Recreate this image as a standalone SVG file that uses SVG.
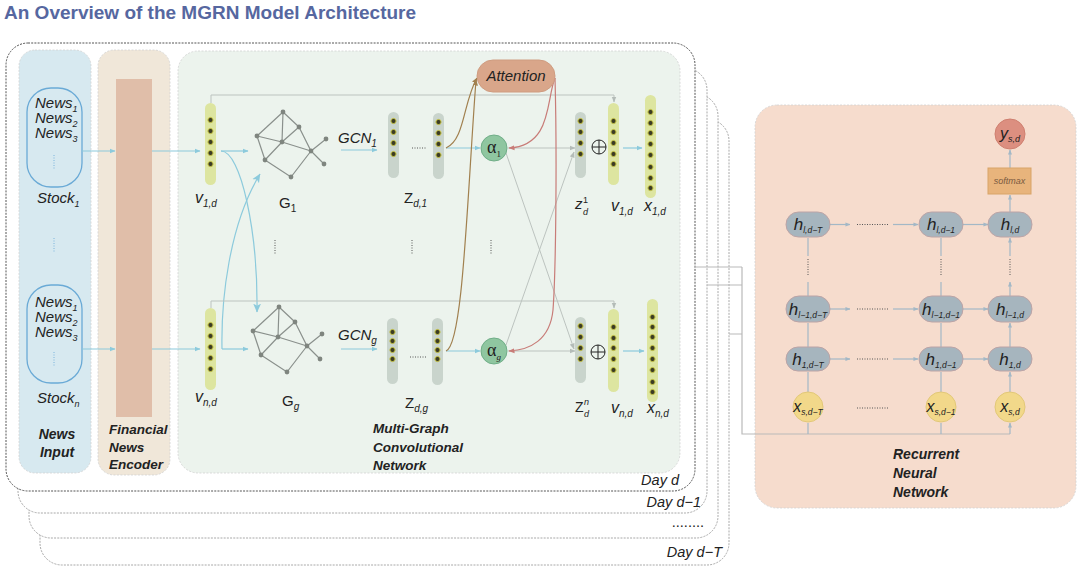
<svg xmlns="http://www.w3.org/2000/svg" xmlns:xlink="http://www.w3.org/1999/xlink" width="1080" height="571" viewBox="0 0 1080 571">
<style>
.t{font-family:"Liberation Sans",Arial,sans-serif;fill:#222}
.s{font-family:"Liberation Serif","Times New Roman",serif;fill:#222}
.i{font-style:italic}
.b{font-weight:bold}
.frame{fill:#fff;stroke:#a8a8a8;stroke-width:1;stroke-dasharray:2 1.2}
.panel{stroke:#d2d2d2;stroke-width:0.8;stroke-dasharray:2 1.5}
.colY{fill:#dde5a0}
.colG{fill:#c9d4cc}
.dot{fill:#3c3c24;stroke:#c8c64a;stroke-width:1}
.blue{fill:none;stroke:#8ccadc;stroke-width:1.2}
.gray{fill:none;stroke:#bcc3bf;stroke-width:1}
.brown{fill:none;stroke:#a1804f;stroke-width:1.2}
.red{fill:none;stroke:#c87c78;stroke-width:1.2}
.rnn{fill:none;stroke:#a3b8c6;stroke-width:1.2}
.link{fill:none;stroke:#b9b9b9;stroke-width:1.2}
.dl{fill:none;stroke:#555;stroke-width:1;stroke-dasharray:1 1.5}
.dlb{fill:none;stroke:#7ab4dc;stroke-width:1;stroke-dasharray:1 1.5}
.hnode{fill:#a6b5be;stroke:#bca4a6;stroke-width:1}
.gE{stroke:#8a908c;stroke-width:1.2;fill:none}
.gN{fill:#7f857f}
</style>
<defs>
<marker id="aB" viewBox="0 0 6 6" refX="5.5" refY="3" markerWidth="6" markerHeight="6" markerUnits="userSpaceOnUse" orient="auto"><path d="M0,0.6 L6,3 L0,5.4z" fill="#8ccadc"/></marker>
<marker id="aBL" viewBox="0 0 8 8" refX="7.5" refY="4" markerWidth="9" markerHeight="9" markerUnits="userSpaceOnUse" orient="auto"><path d="M0,0.5 L8,4 L0,7.5 L2,4z" fill="#8ccadc"/></marker>
<marker id="aG" viewBox="0 0 6 6" refX="5.5" refY="3" markerWidth="6" markerHeight="6" markerUnits="userSpaceOnUse" orient="auto"><path d="M0,0.6 L6,3 L0,5.4z" fill="#b4bcb8"/></marker>
<marker id="aBr" viewBox="0 0 6 6" refX="5.5" refY="3" markerWidth="6" markerHeight="6" markerUnits="userSpaceOnUse" orient="auto"><path d="M0,0.6 L6,3 L0,5.4z" fill="#a1804f"/></marker>
<marker id="aR" viewBox="0 0 6 6" refX="5.5" refY="3" markerWidth="6" markerHeight="6" markerUnits="userSpaceOnUse" orient="auto"><path d="M0,0.6 L6,3 L0,5.4z" fill="#c87c78"/></marker>
<marker id="aN" viewBox="0 0 6 6" refX="5.5" refY="3" markerWidth="5" markerHeight="5" markerUnits="userSpaceOnUse" orient="auto"><path d="M0,0.6 L6,3 L0,5.4z" fill="#a3b8c6"/></marker>
<g id="graph">
<path class="gE" d="M283,112 L299,127 M283,112 L282,142 M257,136 L283,112 M257,136 L282,142 L311,151 M299,127 L282,142 L265,160 M257,136 L265,160 M299,127 L311,151 L326,139 M311,151 L324,164 M311,151 L291,177 L265,160"/>
<circle class="gN" cx="283" cy="112" r="2.4"/><circle class="gN" cx="299" cy="127" r="2.4"/><circle class="gN" cx="257" cy="136" r="2.4"/><circle class="gN" cx="282" cy="142" r="2.4"/><circle class="gN" cx="311" cy="151" r="2.4"/><circle class="gN" cx="326" cy="139" r="2.4"/><circle class="gN" cx="324" cy="164" r="2.4"/><circle class="gN" cx="265" cy="160" r="2.4"/><circle class="gN" cx="291" cy="177" r="2.4"/>
</g>
</defs>

<rect width="1080" height="571" fill="#fff"/>
<text class="t b" x="4" y="19" font-size="19" fill="#5667a0" style="fill:#5667a0">An Overview of the MGRN Model Architecture</text>

<g id="day-frames">
<rect class="frame" x="40" y="119" width="689" height="446" rx="22"/>
<rect class="frame" x="29" y="94" width="689" height="444" rx="22"/>
<rect class="frame" x="18" y="68" width="689" height="445" rx="22"/>
<rect class="frame" x="6" y="43" width="689" height="448" rx="22" style="stroke:#555"/>
<text class="t i" x="679" y="485" font-size="14.5" text-anchor="end">Day d</text>
<text class="t i" x="701" y="507" font-size="14.5" text-anchor="end">Day d−1</text>
<text class="t" x="704" y="527" font-size="14.5" text-anchor="end">........</text>
<text class="t i" x="722" y="557" font-size="14.5" text-anchor="end">Day d−T</text>
</g>

<g id="news-input">
<rect class="panel" x="19" y="50" width="72" height="423" rx="16" fill="#d7e9f0"/>
<rect x="27" y="88" width="55" height="99" rx="24" fill="none" stroke="#6aaad6" stroke-width="1.3"/>
<text class="t i" x="35" y="108" font-size="15">News<tspan font-size="9" dy="4">1</tspan></text>
<text class="t i" x="35" y="123" font-size="15">News<tspan font-size="9" dy="4">2</tspan></text>
<text class="t i" x="35" y="138" font-size="15">News<tspan font-size="9" dy="4">3</tspan></text>
<path class="dlb" d="M54,155 V170"/>
<text class="t i" x="37" y="203" font-size="15">Stock<tspan font-size="9" dy="4">1</tspan></text>
<path class="dlb" d="M54,238 V252"/>
<rect x="27" y="285" width="55" height="98" rx="24" fill="none" stroke="#6aaad6" stroke-width="1.3"/>
<text class="t i" x="35" y="307" font-size="15">News<tspan font-size="9" dy="4">1</tspan></text>
<text class="t i" x="35" y="322" font-size="15">News<tspan font-size="9" dy="4">2</tspan></text>
<text class="t i" x="35" y="337" font-size="15">News<tspan font-size="9" dy="4">3</tspan></text>
<path class="dlb" d="M54,352 V367"/>
<text class="t i" x="37" y="403" font-size="15">Stock<tspan font-size="9" dy="4">n</tspan></text>
<text class="t b i" x="57" y="439" font-size="14" text-anchor="middle">News</text>
<text class="t b i" x="57" y="457" font-size="14" text-anchor="middle">Input</text>
</g>

<g id="news-encoder">
<rect class="panel" x="98" y="50" width="72" height="425" rx="16" fill="#f0e7d9"/>
<rect x="116" y="79" width="36" height="338" fill="#e0bea9"/>
<text class="t b i" x="109" y="434" font-size="13.5">Financial</text>
<text class="t b i" x="109" y="452" font-size="13.5">News</text>
<text class="t b i" x="109" y="469" font-size="13.5">Encoder</text>
</g>

<g id="mgcn-panel">
<rect class="panel" x="178" y="51" width="502" height="422" rx="20" fill="#ecf3ed"/>
<text class="t b i" x="373" y="433" font-size="13.5">Multi-Graph</text>
<text class="t b i" x="373" y="452" font-size="13.5">Convolutional</text>
<text class="t b i" x="373" y="470" font-size="13.5">Network</text>
<path class="dl" d="M275,240 V254 M412,240 V254 M491,240 V254"/>
</g>

<g id="rnn-panel">
<rect class="panel" x="755" y="105" width="321" height="403" rx="22" fill="#f6dccd"/>
<text class="t b i" x="893" y="459" font-size="14">Recurrent</text>
<text class="t b i" x="893" y="478" font-size="14">Neural</text>
<text class="t b i" x="893" y="497" font-size="14">Network</text>
</g>

<g id="connectors">
<path class="blue" d="M82,151 H115" marker-end="url(#aB)"/>
<path class="blue" d="M152,151 H200" marker-end="url(#aB)"/>
<path class="blue" d="M82,349 H115" marker-end="url(#aB)"/>
<path class="blue" d="M152,349 H200" marker-end="url(#aB)"/>
<path class="blue" d="M221,151 H248" marker-end="url(#aB)"/>
<path class="blue" d="M221,151 C241,151 258,232 257,312" marker-end="url(#aBL)"/>
<path class="blue" d="M222,349 H248" marker-end="url(#aB)"/>
<path class="blue" d="M222,349 C221,300 229,225 260,174" marker-end="url(#aBL)"/>
<path class="blue" d="M341,150 H377" marker-end="url(#aB)"/>
<path class="blue" d="M341,349 H377" marker-end="url(#aB)"/>
<path class="blue" d="M446,148 H480" marker-end="url(#aB)"/>
<path class="blue" d="M446,351 H480" marker-end="url(#aB)"/>
<path class="blue" d="M623,148 H642" marker-end="url(#aB)"/>
<path class="blue" d="M623,351 H644" marker-end="url(#aB)"/>
<path class="gray" d="M211,103 V95 H614 V102" marker-end="url(#aG)"/>
<path class="gray" d="M211,308 V301 H614 V308" marker-end="url(#aG)"/>
<path class="gray" d="M508,148 H575" marker-end="url(#aG)"/>
<path class="gray" d="M508,351 H575" marker-end="url(#aG)"/>
<path class="gray" d="M506,153 L574,349" marker-end="url(#aG)"/>
<path class="gray" d="M506,345 L574,152" marker-end="url(#aG)"/>
<path class="brown" d="M446,148 C465,140 463,102 477,78" marker-end="url(#aBr)"/>
<path class="brown" d="M446,351 C463,345 467,200 476,80" marker-end="url(#aBr)"/>
<path class="red" d="M555,78 C546,100 552,146 509,148" marker-end="url(#aR)"/>
<path class="red" d="M555,78 C557,150 556,270 553,310 C550,340 530,350 509,351" marker-end="url(#aR)"/>
<path class="link" d="M694,267 H742 M707,285 H742 M729,334 H742 M742,267 V434 H1010"/>
<path class="rnn" d="M808,434 V423 M941,434 V423 M1010,434 V423" marker-end="url(#aN)"/>
<path class="rnn" d="M808,392 V372 M941,392 V372 M1010,392 V372" marker-end="url(#aN)"/>
<path class="rnn" d="M808,347 V323 M941,347 V323 M1010,347 V323" marker-end="url(#aN)"/>
<path class="rnn" d="M808,296 V282 M941,296 V282 M1010,296 V282" marker-end="url(#aN)"/>
<path class="rnn" d="M808,256 V238 M941,256 V238 M1010,256 V238" marker-end="url(#aN)"/>
<path class="dl" d="M808,259 V275 M941,259 V275 M1010,259 V275"/>
<path class="rnn" d="M1010,212 V195" marker-end="url(#aN)"/>
<path class="rnn" d="M1010,168 V150" marker-end="url(#aN)"/>
<path class="rnn" d="M830,224.5 H850" marker-end="url(#aN)"/>
<path class="rnn" d="M893,224.5 H918" marker-end="url(#aN)"/>
<path class="rnn" d="M963,224.5 H988" marker-end="url(#aN)"/>
<path class="rnn" d="M830,309 H850" marker-end="url(#aN)"/>
<path class="rnn" d="M893,309 H918" marker-end="url(#aN)"/>
<path class="rnn" d="M963,309 H988" marker-end="url(#aN)"/>
<path class="rnn" d="M830,359 H850" marker-end="url(#aN)"/>
<path class="rnn" d="M893,359 H918" marker-end="url(#aN)"/>
<path class="rnn" d="M963,359 H988" marker-end="url(#aN)"/>
<path class="dl" d="M857,224.5 H889 M857,309 H889 M857,359 H889 M857,408 H889"/>
</g>

<g id="v1d-in">
<rect class="colY" x="205" y="103" width="11" height="82" rx="5.5"/>
<circle class="dot" cx="210.5" cy="120" r="2.6"/><circle class="dot" cx="210.5" cy="131" r="2.6"/><circle class="dot" cx="210.5" cy="142" r="2.6"/><circle class="dot" cx="210.5" cy="153" r="2.6"/><circle class="dot" cx="210.5" cy="164" r="2.6"/>
<text class="t i" x="195" y="203" font-size="16">v<tspan font-size="10" dy="4">1,d</tspan></text>
</g>
<g id="vnd-in">
<rect class="colY" x="205" y="308" width="11" height="82" rx="5.5"/>
<circle class="dot" cx="210.5" cy="325" r="2.6"/><circle class="dot" cx="210.5" cy="336" r="2.6"/><circle class="dot" cx="210.5" cy="347" r="2.6"/><circle class="dot" cx="210.5" cy="358" r="2.6"/><circle class="dot" cx="210.5" cy="369" r="2.6"/>
<text class="t i" x="195" y="402" font-size="16">v<tspan font-size="10" dy="4">n,d</tspan></text>
</g>
<g id="graph-1">
<use xlink:href="#graph" href="#graph"/>
<text class="t" x="279" y="208" font-size="15">G<tspan font-size="10" dy="4">1</tspan></text>
</g>
<g id="graph-g">
<use xlink:href="#graph" href="#graph" transform="translate(-4,195)"/>
<text class="t" x="282" y="406" font-size="15">G<tspan class="i" font-size="10" dy="4">g</tspan></text>
</g>
<g id="gcn-1">
<text class="t i" x="338" y="143" font-size="15">GCN<tspan font-size="10" dy="4">1</tspan></text>
<rect class="colG" x="388" y="112" width="11" height="66" rx="5.5"/>
<circle class="dot" cx="393.5" cy="121" r="2.6"/><circle class="dot" cx="393.5" cy="132" r="2.6"/><circle class="dot" cx="393.5" cy="143" r="2.6"/><circle class="dot" cx="393.5" cy="154" r="2.6"/>
<rect class="colG" x="433" y="113" width="11" height="66" rx="5.5"/>
<circle class="dot" cx="438.5" cy="122" r="2.6"/><circle class="dot" cx="438.5" cy="133" r="2.6"/><circle class="dot" cx="438.5" cy="144" r="2.6"/><circle class="dot" cx="438.5" cy="155" r="2.6"/>
<path class="dl" d="M412,148 H427"/>
<text class="t" x="404" y="203" font-size="15">Z<tspan class="i" font-size="10" dy="4">d,1</tspan></text>
</g>
<g id="gcn-g">
<text class="t i" x="338" y="340" font-size="15">GCN<tspan font-size="10" dy="4">g</tspan></text>
<rect class="colG" x="387" y="318" width="11" height="66" rx="5.5"/>
<circle class="dot" cx="392.5" cy="332" r="2.6"/><circle class="dot" cx="392.5" cy="341" r="2.6"/><circle class="dot" cx="392.5" cy="350" r="2.6"/><circle class="dot" cx="392.5" cy="359" r="2.6"/>
<rect class="colG" x="432" y="318" width="11" height="67" rx="5.5"/>
<circle class="dot" cx="437.5" cy="332" r="2.6"/><circle class="dot" cx="437.5" cy="341" r="2.6"/><circle class="dot" cx="437.5" cy="350" r="2.6"/><circle class="dot" cx="437.5" cy="359" r="2.6"/>
<path class="dl" d="M410,357 H426"/>
<text class="t" x="405" y="408" font-size="15">Z<tspan class="i" font-size="10" dy="4">d,g</tspan></text>
</g>
<g id="attention">
<rect x="477" y="60" width="78" height="32" rx="16" fill="#d9a68a" stroke="#cf9c80"/>
<text class="t i" x="516" y="81" font-size="15" text-anchor="middle">Attention</text>
</g>
<g id="alpha-1">
<circle cx="494" cy="148" r="13" fill="#8fc6a0" stroke="#70ae88"/>
<text class="s" x="494" y="153" font-size="18" text-anchor="middle">α<tspan font-size="9" dy="4">1</tspan></text>
</g>
<g id="alpha-g">
<circle cx="494" cy="351" r="13" fill="#8fc6a0" stroke="#70ae88"/>
<text class="s" x="494" y="356" font-size="18" text-anchor="middle">α<tspan class="i" font-size="9" dy="4">g</tspan></text>
</g>
<g id="z-1">
<rect class="colG" x="575" y="112" width="11" height="66" rx="5.5"/>
<circle class="dot" cx="580.5" cy="121" r="2.6"/><circle class="dot" cx="580.5" cy="132" r="2.6"/><circle class="dot" cx="580.5" cy="143" r="2.6"/><circle class="dot" cx="580.5" cy="154" r="2.6"/>
<text class="t i" x="575" y="209" font-size="15">z</text>
<text class="t" x="583" y="203" font-size="9">1</text>
<text class="t i" x="583" y="215" font-size="9">d</text>
</g>
<g id="z-n">
<rect class="colG" x="575" y="317" width="11" height="66" rx="5.5"/>
<circle class="dot" cx="580.5" cy="326" r="2.6"/><circle class="dot" cx="580.5" cy="337" r="2.6"/><circle class="dot" cx="580.5" cy="348" r="2.6"/><circle class="dot" cx="580.5" cy="359" r="2.6"/>
<text class="t" x="575" y="412" font-size="14">Z</text>
<text class="t i" x="584" y="405" font-size="9">n</text>
<text class="t i" x="584" y="417" font-size="9">d</text>
</g>
<g id="concat-1">
<circle cx="599" cy="147" r="7" fill="none" stroke="#222" stroke-width="1"/>
<path d="M592,147 H606 M599,140 V154" stroke="#222" stroke-width="1"/>
</g>
<g id="concat-n">
<circle cx="598" cy="352" r="7" fill="none" stroke="#222" stroke-width="1"/>
<path d="M591,352 H605 M598,345 V359" stroke="#222" stroke-width="1"/>
</g>
<g id="v1d-out">
<rect class="colY" x="608" y="103" width="11" height="82" rx="5.5"/>
<circle class="dot" cx="613.5" cy="121" r="2.6"/><circle class="dot" cx="613.5" cy="132" r="2.6"/><circle class="dot" cx="613.5" cy="143" r="2.6"/><circle class="dot" cx="613.5" cy="154" r="2.6"/><circle class="dot" cx="613.5" cy="164" r="2.6"/>
<text class="t i" x="611" y="211" font-size="16">v<tspan font-size="10" dy="4">1,d</tspan></text>
</g>
<g id="vnd-out">
<rect class="colY" x="608" y="309" width="11" height="83" rx="5.5"/>
<circle class="dot" cx="613.5" cy="327" r="2.6"/><circle class="dot" cx="613.5" cy="338" r="2.6"/><circle class="dot" cx="613.5" cy="348" r="2.6"/><circle class="dot" cx="613.5" cy="359" r="2.6"/><circle class="dot" cx="613.5" cy="370" r="2.6"/>
<text class="t i" x="611" y="413" font-size="16">v<tspan font-size="10" dy="4">n,d</tspan></text>
</g>
<g id="x1d">
<rect class="colY" x="645" y="95" width="11" height="103" rx="5.5"/>
<circle class="dot" cx="650.5" cy="112" r="2.6"/><circle class="dot" cx="650.5" cy="123" r="2.6"/><circle class="dot" cx="650.5" cy="133" r="2.6"/><circle class="dot" cx="650.5" cy="144" r="2.6"/><circle class="dot" cx="650.5" cy="155" r="2.6"/><circle class="dot" cx="650.5" cy="167" r="2.6"/><circle class="dot" cx="650.5" cy="178" r="2.6"/><circle class="dot" cx="650.5" cy="188" r="2.6"/>
<text class="t i" x="644" y="211" font-size="16">x<tspan font-size="10" dy="4">1,d</tspan></text>
</g>
<g id="xnd">
<rect class="colY" x="647" y="299" width="11" height="103" rx="5.5"/>
<circle class="dot" cx="652.5" cy="317" r="2.6"/><circle class="dot" cx="652.5" cy="327" r="2.6"/><circle class="dot" cx="652.5" cy="337" r="2.6"/><circle class="dot" cx="652.5" cy="348" r="2.6"/><circle class="dot" cx="652.5" cy="359" r="2.6"/><circle class="dot" cx="652.5" cy="370" r="2.6"/><circle class="dot" cx="652.5" cy="382" r="2.6"/><circle class="dot" cx="652.5" cy="392" r="2.6"/>
<text class="t i" x="647" y="413" font-size="16">x<tspan font-size="10" dy="4">n,d</tspan></text>
</g>

<g id="y-sd">
<circle cx="1010" cy="134" r="15" fill="#dc8f80" stroke="#cf8070"/>
<text class="t i" x="1010" y="139" font-size="16" text-anchor="middle">y<tspan font-size="9" dy="3">s,d</tspan></text>
</g>
<g id="softmax">
<rect x="988" y="168" width="43" height="26" fill="#e8b47c" stroke="#d8a468"/>
<text class="t i" x="1009.5" y="184" font-size="9" text-anchor="middle" style="fill:#7a5a40">softmax</text>
</g>
<g id="h-l-dT"><rect class="hnode" x="786" y="212" width="44" height="25" rx="12.5"/><text class="t i" x="808" y="230" font-size="17" text-anchor="middle">h<tspan font-size="8.5" dy="3">l,d−T</tspan></text></g>
<g id="h-l-d1"><rect class="hnode" x="919" y="212" width="44" height="25" rx="12.5"/><text class="t i" x="941" y="230" font-size="17" text-anchor="middle">h<tspan font-size="8.5" dy="3">l,d−1</tspan></text></g>
<g id="h-l-d"><rect class="hnode" x="988" y="212" width="44" height="25" rx="12.5"/><text class="t i" x="1010" y="230" font-size="17" text-anchor="middle">h<tspan font-size="8.5" dy="3">l,d</tspan></text></g>
<g id="h-l1-dT"><rect class="hnode" x="786" y="296" width="44" height="26" rx="13"/><text class="t i" x="808" y="315" font-size="17" text-anchor="middle">h<tspan font-size="8.5" dy="3">l−1,d−T</tspan></text></g>
<g id="h-l1-d1"><rect class="hnode" x="919" y="296" width="44" height="26" rx="13"/><text class="t i" x="941" y="315" font-size="17" text-anchor="middle">h<tspan font-size="8.5" dy="3">l−1,d−1</tspan></text></g>
<g id="h-l1-d"><rect class="hnode" x="988" y="296" width="44" height="26" rx="13"/><text class="t i" x="1010" y="315" font-size="17" text-anchor="middle">h<tspan font-size="8.5" dy="3">l−1,d</tspan></text></g>
<g id="h-1-dT"><rect class="hnode" x="786" y="347" width="44" height="24" rx="12"/><text class="t i" x="808" y="365" font-size="17" text-anchor="middle">h<tspan font-size="8.5" dy="3">1,d−T</tspan></text></g>
<g id="h-1-d1"><rect class="hnode" x="919" y="347" width="44" height="24" rx="12"/><text class="t i" x="941" y="365" font-size="17" text-anchor="middle">h<tspan font-size="8.5" dy="3">1,d−1</tspan></text></g>
<g id="h-1-d"><rect class="hnode" x="988" y="347" width="44" height="24" rx="12"/><text class="t i" x="1010" y="365" font-size="17" text-anchor="middle">h<tspan font-size="8.5" dy="3">1,d</tspan></text></g>
<g id="x-s-dT"><circle cx="808" cy="407" r="15" fill="#f2d88a" stroke="#e2c878"/><text class="t i" x="808" y="412" font-size="16" text-anchor="middle">x<tspan font-size="8.5" dy="3">s,d−T</tspan></text></g>
<g id="x-s-d1"><circle cx="941" cy="407" r="15" fill="#f2d88a" stroke="#e2c878"/><text class="t i" x="941" y="412" font-size="16" text-anchor="middle">x<tspan font-size="8.5" dy="3">s,d−1</tspan></text></g>
<g id="x-s-d"><circle cx="1010" cy="407" r="15" fill="#f2d88a" stroke="#e2c878"/><text class="t i" x="1010" y="412" font-size="16" text-anchor="middle">x<tspan font-size="8.5" dy="3">s,d</tspan></text></g>
</svg>
